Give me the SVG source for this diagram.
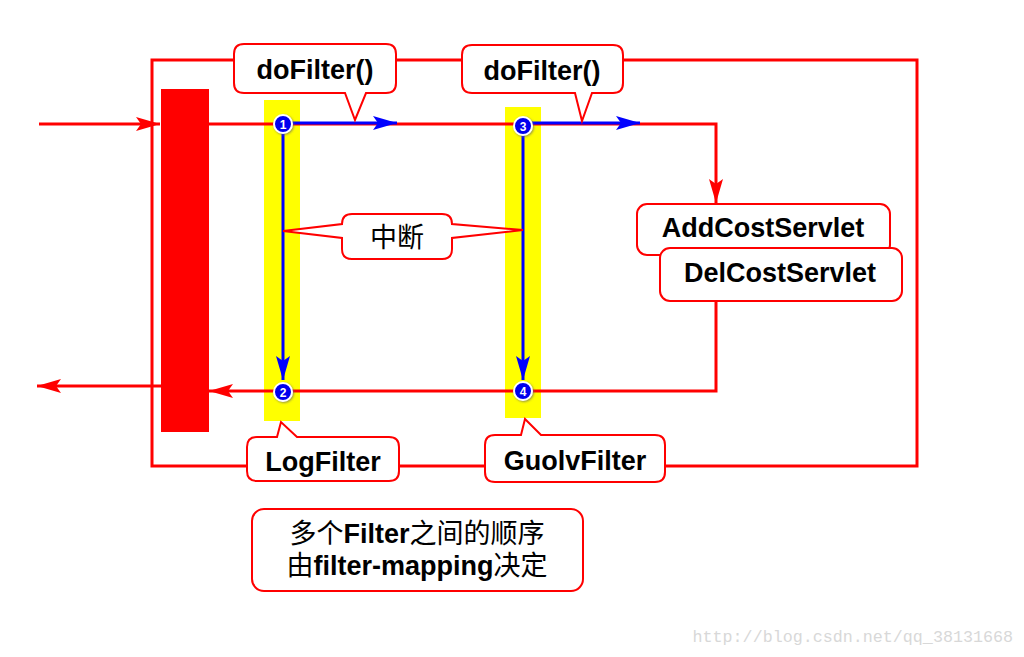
<svg xmlns="http://www.w3.org/2000/svg" width="1024" height="657" viewBox="0 0 1024 657">
<defs>
<style>
.r{stroke:#ff0000;stroke-width:3;fill:none}
.b{stroke:#0000ff;stroke-width:3;fill:none}
.co{fill:#fff;stroke:#ff0000;stroke-width:2}
.t{font-family:"Liberation Sans",Arial,sans-serif;font-weight:bold;font-size:27px;fill:#000;text-anchor:middle}
.cj{font-family:"Liberation Sans","Noto Sans CJK SC",sans-serif;font-size:27px;fill:#000;text-anchor:middle}
.n{font-family:"Liberation Sans",Arial,sans-serif;font-weight:bold;font-size:12px;fill:#fff;text-anchor:middle}
.dot{fill:#0000ee;stroke:#fff;stroke-width:2}
</style>
<marker id="ar" viewBox="0 0 24 14" refX="24" refY="7" markerWidth="24" markerHeight="14" markerUnits="userSpaceOnUse" orient="auto"><path d="M0,0 L24,7 L0,14 L5,7 Z" fill="#ff0000"/></marker>
<marker id="ab" viewBox="0 0 24 14" refX="24" refY="7" markerWidth="24" markerHeight="14" markerUnits="userSpaceOnUse" orient="auto"><path d="M0,0 L24,7 L0,14 L5,7 Z" fill="#0000ff"/></marker>
<filter id="sh" x="-50%" y="-50%" width="200%" height="200%"><feDropShadow dx="1" dy="1" stdDeviation="1" flood-color="#666" flood-opacity="0.7"/></filter>
</defs>
<rect width="1024" height="657" fill="#fff"/>
<g id="frame">
<rect x="152" y="60" width="765" height="406" class="r"/>
</g>
<g id="block"><rect x="161" y="89" width="48" height="343" fill="#ff0000"/></g>
<g id="bars">
<rect x="264" y="100" width="36" height="321" fill="#ffff00"/>
<rect x="505" y="107" width="36" height="311" fill="#ffff00"/>
</g>
<g id="connectors">
<line x1="39" y1="124" x2="160" y2="124" class="r" marker-end="url(#ar)"/>
<polyline points="209,124 716,124 716,203" class="r" marker-end="url(#ar)"/>
<polyline points="716,301 716,391 209,391" class="r" marker-end="url(#ar)"/>
<line x1="161" y1="386" x2="37" y2="386" class="r" marker-end="url(#ar)"/>
<line x1="283" y1="123" x2="397" y2="123" class="b" marker-end="url(#ab)"/>
<line x1="523" y1="123" x2="640" y2="123" class="b" marker-end="url(#ab)"/>
<line x1="283" y1="124" x2="283" y2="380" class="b" marker-end="url(#ab)"/>
<line x1="523" y1="126" x2="523" y2="380" class="b" marker-end="url(#ab)"/>
</g>
<g id="dots" filter="url(#sh)">
<circle cx="283" cy="124" r="9" class="dot"/>
<circle cx="283" cy="392" r="9" class="dot"/>
<circle cx="523" cy="126" r="9" class="dot"/>
<circle cx="523" cy="391" r="9" class="dot"/>
</g>
<g id="nums">
<text x="283" y="128.5" class="n">1</text>
<text x="283" y="396.5" class="n">2</text>
<text x="523" y="130.5" class="n">3</text>
<text x="523" y="395.5" class="n">4</text>
</g>
<g id="doFilter1">
<path d="M244,44 H386 Q396,44 396,54 V83 Q396,93 386,93 H366 L355,120 L345,93 H244 Q234,93 234,83 V54 Q234,44 244,44 Z" class="co"/>
<text x="315" y="79" class="t">doFilter()</text>
</g>
<g id="doFilter2">
<path d="M472,45 H613 Q623,45 623,55 V83 Q623,93 613,93 H592 L582,121 L575,93 H472 Q462,93 462,83 V55 Q462,45 472,45 Z" class="co"/>
<text x="542" y="80" class="t">doFilter()</text>
</g>
<g id="zhongduan">
<path d="M352,214 H442 Q452,214 452,224 L523,230 L452,238 V249 Q452,259 442,259 H352 Q342,259 342,249 V238 L283,231 L342,224 V224 Q342,214 352,214 Z" class="co"/>
<text x="397" y="247" class="cj">中断</text>
</g>
<g id="AddCostServlet">
<rect x="637" y="204" width="253" height="51" rx="10" class="co"/>
<text x="763" y="237" class="t">AddCostServlet</text>
</g>
<g id="DelCostServlet">
<rect x="660" y="248" width="242" height="53" rx="10" class="co"/>
<text x="780" y="282" class="t">DelCostServlet</text>
</g>
<g id="LogFilter">
<path d="M257,437 H277 L281,422 L297,437 H389 Q399,437 399,447 V471 Q399,481 389,481 H257 Q247,481 247,471 V447 Q247,437 257,437 Z" class="co"/>
<text x="323" y="471" class="t">LogFilter</text>
</g>
<g id="GuolvFilter">
<path d="M495,435 H521 L525,419 L541,435 H655 Q665,435 665,445 V472 Q665,482 655,482 H495 Q485,482 485,472 V445 Q485,435 495,435 Z" class="co"/>
<text x="575" y="470" class="t">GuolvFilter</text>
</g>
<g id="note">
<rect x="252" y="509" width="331" height="82" rx="12" class="co"/>
<text x="417" y="543" class="cj" font-size="28">多个<tspan font-weight="bold">Filter</tspan>之间的顺序</text>
<text x="417" y="575" class="cj" font-size="28">由<tspan font-weight="bold">filter-mapping</tspan>决定</text>
</g>
<text x="1013" y="642" font-family="'Liberation Mono',monospace" font-size="16.7" fill="#d8d8d8" text-anchor="end">http://blog.csdn.net/qq_38131668</text>
</svg>
